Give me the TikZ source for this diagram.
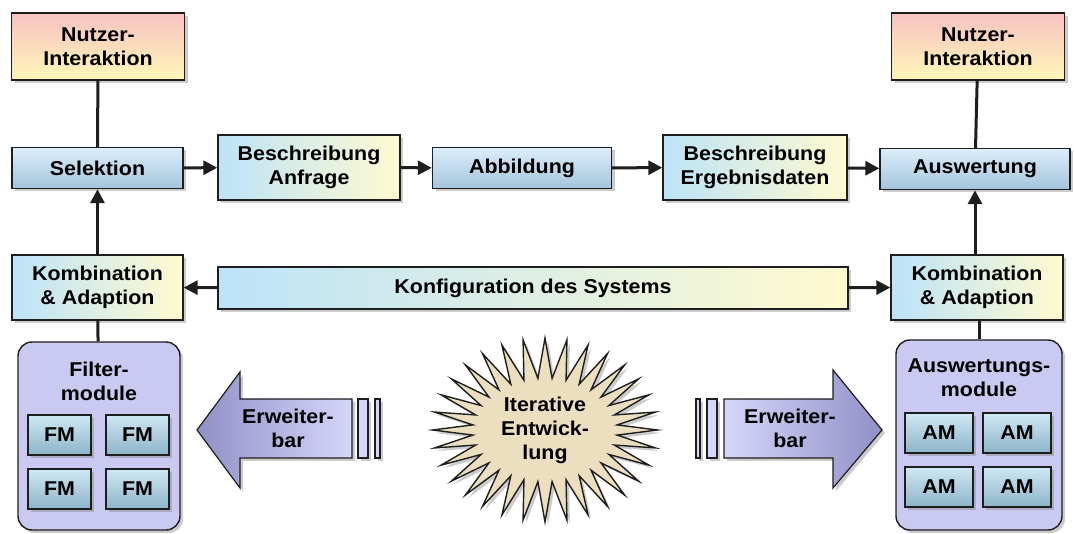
\documentclass[tikz,border=0pt]{standalone}
\usepackage{fontspec}
\setmainfont{Liberation Sans}[FakeStretch=1.07]
\usetikzlibrary{arrows.meta,shadows,shapes.symbols}

\definecolor{nutztop}{HTML}{F8C2C2}
\definecolor{nutzbot}{HTML}{FFF7B8}
\definecolor{seltop}{HTML}{DCEEFA}
\definecolor{selbot}{HTML}{A4C4DC}
\definecolor{beschl}{HTML}{BDE3F8}
\definecolor{beschr}{HTML}{FFFAD0}
\definecolor{modfill}{HTML}{C9C9F2}
\definecolor{fmtop}{HTML}{CFE8F4}
\definecolor{fmbot}{HTML}{8DB4C8}
\definecolor{pfeil}{HTML}{D6D6FA}
\definecolor{pfeild}{HTML}{9090C8}
\definecolor{stern}{HTML}{ECDFC0}
\definecolor{rand}{HTML}{1E1E1E}

\tikzset{
	schatten/.style={drop shadow={shadow xshift=3pt,shadow yshift=-3pt,opacity=0.4}},
	txt/.style={align=center, font=\fontsize{20}{24}\selectfont\bfseries},
	box/.style={txt, draw=rand, line width=1.4pt, inner sep=0pt, schatten},
	nutz/.style={box, top color=nutztop, bottom color=nutzbot, minimum width=173pt, minimum height=67pt},
	blau/.style={box, top color=seltop, bottom color=selbot, minimum height=41pt},
	besch/.style={box, left color=beschl, right color=beschr, minimum height=65pt},
	modul/.style={draw=rand, line width=1.4pt, fill=modfill, rounded corners=14pt, schatten},
	fm/.style={box, top color=fmtop, bottom color=fmbot, minimum height=40pt},
	linie/.style={line width=3pt, draw=rand},
	pfeil/.style={linie, -{Triangle[length=14pt,width=14pt]}},
	erw/.style={draw=rand, line width=1.2pt, schatten}
}

\begin{document}
\begin{tikzpicture}[x=1pt,y=-1pt]
	\useasboundingbox (0,0) rectangle (1074,534);
	\node[nutz] (nutzL) at (98,46.5) {Nutzer-\\Interaktion};
	\node[nutz] (nutzR) at (978,46.5) {Nutzer-\\Interaktion};
	\node[blau, minimum width=171pt] (sel) at (97.5,168) {Selektion};
	\node[besch, minimum width=182pt] (beschA) at (309,167.5) {Beschreibung\\Anfrage};
	\node[blau, minimum width=179pt] (abb) at (522,168) {Abbildung};
	\node[besch, minimum width=184pt] (beschE) at (755,167.5) {Beschreibung\\Ergebnisdaten};
	\node[blau, minimum width=190pt] (ausw) at (975,169) {Auswertung};
	\node[besch, minimum width=171pt] (kombL) at (97.5,287.5) {Kombination\\\& Adaption};
	\node[besch, minimum width=172pt] (kombR) at (977,287.5) {Kombination\\\& Adaption};
	\node[besch, minimum width=630pt, minimum height=42pt] (konf) at (533,288) {Konfiguration des Systems};

	\node[modul, minimum width=162pt, minimum height=188pt] (filt) at (99,436) {};
	\node[txt] (filtT) at (99,381) {Filter-\\module};
	\node[fm, minimum width=63pt] (fm1) at (59.5,435) {FM};
	\node[fm, minimum width=63pt] (fm2) at (137.5,435) {FM};
	\node[fm, minimum width=63pt] (fm3) at (59.5,489) {FM};
	\node[fm, minimum width=63pt] (fm4) at (137.5,489) {FM};

	\node[modul, minimum width=166pt, minimum height=190pt] (amod) at (979,435) {};
	\node[txt] (amodT) at (979,378) {Auswertungs-\\module};
	\node[fm, minimum width=68pt] (am1) at (939,433) {AM};
	\node[fm, minimum width=68pt] (am2) at (1017,433) {AM};
	\node[fm, minimum width=68pt] (am3) at (939,487) {AM};
	\node[fm, minimum width=68pt] (am4) at (1017,487) {AM};

	\path[erw, left color=pfeild, right color=pfeil] (352,399) -- (240,399) -- (240,372) -- (197,430) -- (240,488) -- (240,458) -- (352,458) -- cycle;
	\path[erw, fill=pfeil] (358,399) rectangle (368,458);
	\path[erw, fill=pfeil] (375,399) rectangle (380,458);
	\node[txt] (ewL) at (288,428) {Erweiter-\\bar};
	\path[erw, left color=pfeil, right color=pfeild] (724,399) -- (833,399) -- (833,370) -- (882,430) -- (833,488) -- (833,458) -- (724,458) -- cycle;
	\path[erw, fill=pfeil] (696,399) rectangle (700,458);
	\path[erw, fill=pfeil] (707,399) rectangle (717,458);
	\node[txt] (ewR) at (790,428) {Erweiter-\\bar};

	\node[starburst, starburst points=32, starburst point height=40pt, random starburst=0, draw=rand, line width=1.4pt, fill=stern, minimum width=225pt, minimum height=172pt, txt, schatten] (iter) at (545,430) {Iterative\\Entwick-\\lung};

	\draw[linie] (nutzL) -- (sel);
	\draw[linie] (nutzR) -- (ausw);
	\draw[pfeil] (sel) -- (beschA);
	\draw[pfeil] (beschA) -- (abb);
	\draw[pfeil] (abb) -- (beschE);
	\draw[pfeil] (beschE) -- (ausw);
	\draw[pfeil] (kombL) -- (sel);
	\draw[pfeil] (kombR.north -| ausw) -- (ausw);
	\draw[pfeil] (konf) -- (kombL);
	\draw[pfeil] (konf) -- (kombR);
	\draw[linie] (kombL) -- (filt);
	\draw[linie] (kombR.south -| amod) -- (amod);
\end{tikzpicture}
\end{document}
